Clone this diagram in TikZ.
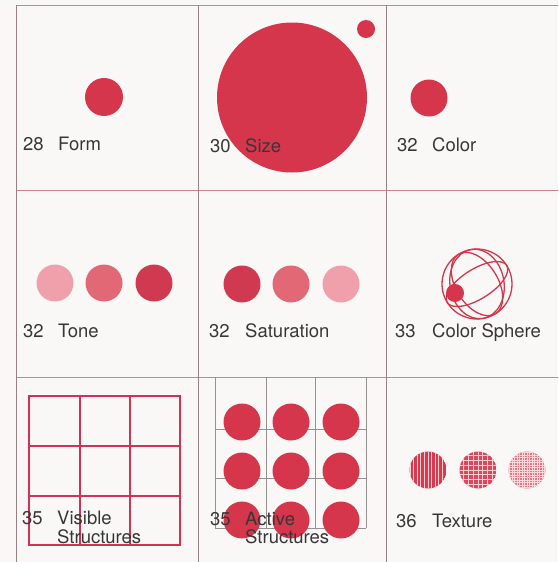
\documentclass[tikz,border=0pt]{standalone}
\usepackage{fontspec}
\setmainfont{TeX Gyre Heros}
\definecolor{paper}{RGB}{250,248,247}
\definecolor{mred}{RGB}{214,54,76}
\definecolor{tone1}{RGB}{240,160,170}
\definecolor{tone2}{RGB}{226,104,118}
\definecolor{tone3}{RGB}{208,58,80}
\definecolor{hl}{RGB}{205,130,145}
\definecolor{vl}{RGB}{150,128,134}
\definecolor{gridred}{RGB}{212,50,85}
\definecolor{gridgray}{RGB}{150,145,145}
\definecolor{txt}{RGB}{55,55,55}
\definecolor{tex1}{RGB}{212,58,80}
\definecolor{tex2}{RGB}{218,72,92}
\definecolor{tex3}{RGB}{228,118,130}
\definecolor{texl}{RGB}{255,205,210}
\begin{document}
\begin{tikzpicture}[x=1pt,y=-1pt,
  lbl/.style={anchor=base west, inner sep=0pt, text=txt, font=\fontsize{18.5}{21}\selectfont},
  disc/.style={circle, inner sep=0pt, draw=none, minimum size=#1},
  hline/.style={draw=hl, line width=1pt},
  vline/.style={draw=vl, line width=0.9pt},
  visgrid/.style={draw=gridred, line width=2pt},
  actgrid/.style={draw=gridgray, line width=0.9pt},
  sphere/.style={draw=mred, line width=1.3pt}]
\useasboundingbox (0,0) rectangle (558,562);
\fill[paper] (0,0) rectangle (558,562);
% frame lines
\draw[hline] (16,5) -- (558,5);
\draw[hline] (16,190) -- (558,190);
\draw[hline] (16,377) -- (558,377);
\draw[vline] (16,5) -- (16,562);
\draw[vline] (198,5) -- (198,562);
\draw[vline] (386,5) -- (386,562);
% Form
\node[disc=38pt, fill=mred] (form) at (104,97) {};
\node[lbl] (n28) at (23,150) {28};
\node[lbl] (wform) at (58,150) {Form};
% Size
\node[disc=150pt, fill=mred] (big) at (292,97.5) {};
\node[disc=18pt, fill=mred] (small) at (366,29) {};
\node[lbl] (n30) at (210,152) {30};
\node[lbl] (wsize) at (245,152) {Size};
% Color
\node[disc=37pt, fill=mred] (color) at (429,98) {};
\node[lbl] (n32a) at (397,151) {32};
\node[lbl] (wcolor) at (432,151) {Color};
% Tone
\node[disc=37pt, fill=tone1] (t1) at (55,283) {};
\node[disc=37pt, fill=tone2] (t2) at (104,283) {};
\node[disc=37pt, fill=tone3] (t3) at (154,283) {};
\node[lbl] (n32b) at (23,337) {32};
\node[lbl] (wtone) at (58,337) {Tone};
% Saturation
\node[disc=37pt, fill=tone3] (s1) at (242,284) {};
\node[disc=37pt, fill=tone2] (s2) at (291,284) {};
\node[disc=37pt, fill=tone1] (s3) at (341,284) {};
\node[lbl] (n32c) at (209,337) {32};
\node[lbl] (wsat) at (245,337) {Saturation};
% Color sphere
\coordinate (sc) at (477,284);
\draw[sphere] (sc) circle [radius=35];
\draw[sphere, rotate around={32:(sc)}] (sc) ellipse [x radius=35, y radius=15];
\draw[sphere, rotate around={-58:(sc)}] (sc) ellipse [x radius=35, y radius=21];
\draw[sphere, rotate around={100:(sc)}] (sc) ellipse [x radius=35, y radius=27];
\node[disc=18pt, fill=mred] (sdot) at (455,293) {};
\node[lbl] (n33) at (395,337) {33};
\node[lbl] (wsph) at (432,337) {Color Sphere};
% Visible structures
\draw[visgrid] (29,396) rectangle (180,545);
\draw[visgrid] (80,396) -- (80,545);
\draw[visgrid] (130,396) -- (130,545);
\draw[visgrid] (29,446) -- (180,446);
\draw[visgrid] (29,496) -- (180,496);
\node[lbl] (n35a) at (22,524) {35};
\node[lbl] (wvis) at (57,524) {Visible};
\node[lbl] (wvis2) at (57,543) {Structures};
% Active structures
\foreach \v in {215,266,315,366}{
  \draw[actgrid] (\v,377) -- (\v,528);
}
\foreach \h in {429,478,528}{
  \draw[actgrid] (215,\h) -- (366,\h);
}
\foreach \r/\yy in {1/422,2/471,3/520}{
  \foreach \c/\xx in {1/242,2/291,3/341}{
    \node[disc=37pt, fill=mred] (a\r\c) at (\xx,\yy) {};
  }
}
\node[lbl] (n35b) at (210,525) {35};
\node[lbl] (wact) at (245,525) {Active};
\node[lbl] (wact2) at (245,543) {Structures};
% Texture
\begin{scope}
  \clip (428,470) circle [radius=18.5];
  \fill[tex1] (428,470) circle [radius=18.5];
  \foreach \i in {-5,...,5}{
    \draw[texl, line width=0.7pt] (428+\i*3.6,450) -- (428+\i*3.6,490);
  }
\end{scope}
\node[disc=37pt] (tx1) at (428,470) {};
\begin{scope}
  \clip (478,470) circle [radius=18.5];
  \fill[tex2] (478,470) circle [radius=18.5];
  \foreach \i in {-4,...,4}{
    \draw[texl, line width=0.8pt] (478+\i*4.8,450) -- (478+\i*4.8,490);
    \draw[texl, line width=0.8pt] (458,470+\i*4.8) -- (498,470+\i*4.8);
  }
\end{scope}
\node[disc=37pt] (tx2) at (478,470) {};
\begin{scope}
  \clip (527,470) circle [radius=18.5];
  \fill[tex3] (527,470) circle [radius=18.5];
  \foreach \i in {-8,...,8}{
    \draw[texl!80!white, line width=0.45pt] (527+\i*2.5,450) -- (527+\i*2.5,490);
    \draw[texl!80!white, line width=0.45pt] (507,470+\i*2.5) -- (547,470+\i*2.5);
  }
\end{scope}
\node[disc=37pt] (tx3) at (527,470) {};
\node[lbl] (n36) at (396,527) {36};
\node[lbl] (wtex) at (432,527) {Texture};
\end{tikzpicture}
\end{document}
